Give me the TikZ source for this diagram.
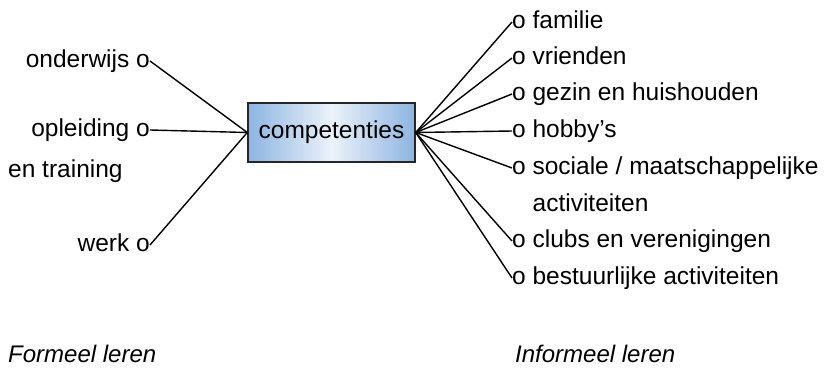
\documentclass[tikz,border=0pt]{standalone}
\usepackage{fontspec}
\setmainfont{Liberation Sans}
\definecolor{compblue}{RGB}{140,180,225}
\definecolor{complight}{RGB}{236,242,250}

\begin{document}
\begin{tikzpicture}[x=1pt, y=1pt,
		box/.style={draw=black!85, line width=1.4pt, minimum width=167pt, minimum height=59pt, inner sep=0pt,
			left color=compblue, right color=compblue, middle color=complight, font=\fontsize{24.5}{28}\selectfont},
		item/.style={inner sep=0pt, text height=12.5pt, text depth=0pt, font=\fontsize{24.5}{28}\selectfont},
		link/.style={line width=1.4pt}]
			\useasboundingbox (0,0) rectangle (839,368);
			% centre box
			\node[box] (comp) at (331.5,235.5) {competenties};
			% formal items
			\node[item, anchor=east] (ond) at (150,307) {onderwijs o};
			\node[item, anchor=east] (opl) at (150,238) {opleiding o};
			\node[item, anchor=west] (tra) at (8,197) {en training};
			\node[item, anchor=east] (wer) at (150,123) {werk o};
			% informal items
			\node[item, anchor=west] (fam) at (512,346) {o familie};
			\node[item, anchor=west] (vri) at (512,310) {o vrienden};
			\node[item, anchor=west] (gez) at (512,274) {o gezin en huishouden};
			\node[item, anchor=west] (hob) at (512,237) {o hobby’s};
			\node[item, anchor=west] (soc) at (512,200) {o sociale / maatschappelijke};
			\node[item, anchor=west] (act) at (512,163) {\hphantom{o }activiteiten};
			\node[item, anchor=west] (clu) at (512,127) {o clubs en verenigingen};
			\node[item, anchor=west] (bes) at (512,90) {o bestuurlijke activiteiten};
			% captions
			\node[anchor=base west, inner sep=0pt, font=\fontsize{24}{28}\selectfont\itshape] (form) at (8,6) {Formeel leren};
			\node[anchor=base west, inner sep=0pt, font=\fontsize{24}{28}\selectfont\itshape] (inform) at (515,6) {Informeel leren};
			% left lines
			\draw[link] (comp.west) -- (ond.east);
			\draw[link] (comp.west) -- (opl.east);
			\draw[link] (comp.west) -- (wer.east);
			% right lines
			\draw[link] (comp.east) -- (fam.west);
			\draw[link] (comp.east) -- (vri.west);
			\draw[link] (comp.east) -- (gez.west);
			\draw[link] (comp.east) -- (hob.west);
			\draw[link] (comp.east) -- (soc.west);
			\draw[link] (comp.east) -- (clu.west);
			\draw[link] (comp.east) -- (bes.west);
		\end{tikzpicture}
\end{document}
